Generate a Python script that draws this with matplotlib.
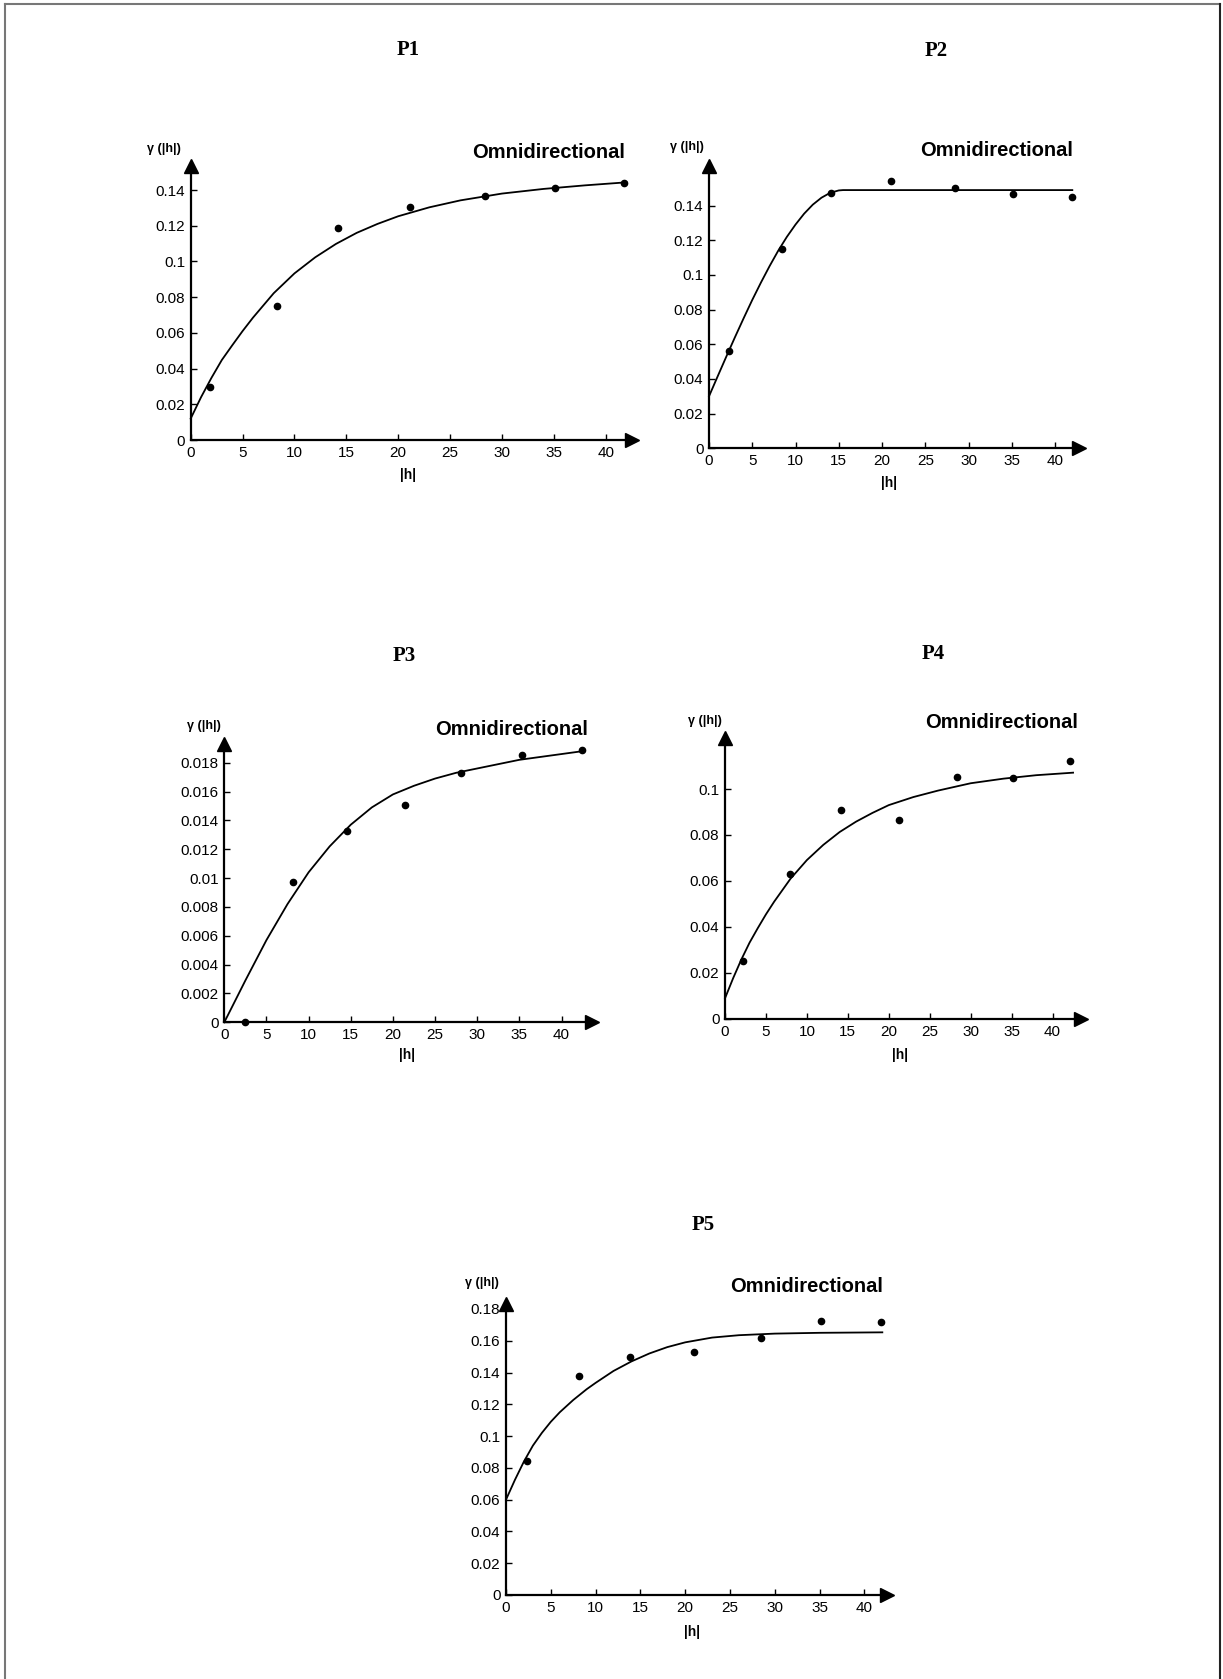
import matplotlib
matplotlib.use("Agg")
import matplotlib.pyplot as plt
from matplotlib.lines import Line2D

# -------------------------
# Data
# -------------------------
titles = ["P1", "P2", "P3", "P4", "P5"]

# experimental points: lag |h| and gamma
p1_lag = [1.9, 8.3, 14.2, 21.1, 28.4, 35.1, 41.8]
p1_gamma = [0.0295, 0.0750, 0.1190, 0.1307, 0.1368, 0.1411, 0.1441]
p2_lag = [2.3, 8.4, 14.1, 21.0, 28.4, 35.1, 42.0]
p2_gamma = [0.0562, 0.1148, 0.1473, 0.1542, 0.1500, 0.1467, 0.1452]
p3_lag = [2.4, 8.2, 14.6, 21.4, 28.1, 35.3, 42.4]
p3_gamma = [0.0000, 0.0097, 0.01326, 0.0151, 0.01726, 0.01851, 0.0189]
p4_lag = [2.2, 7.9, 14.2, 21.3, 28.3, 35.2, 42.1]
p4_gamma = [0.0252, 0.0629, 0.0909, 0.0867, 0.1054, 0.1049, 0.1122]
p5_lag = [2.3, 8.2, 13.8, 21.0, 28.5, 35.2, 41.8]
p5_gamma = [0.0845, 0.1380, 0.1498, 0.1529, 0.1615, 0.1724, 0.1716]

# fitted model curves
p1_model_h = [0, 1, 2, 3, 4, 5, 6, 8, 10, 12, 14, 16, 18, 20, 23, 26, 30, 34, 38, 42]
p1_model_g = [0.012, 0.024, 0.0348, 0.0448, 0.0530, 0.0610, 0.0685, 0.0822, 0.0933,
              0.1023, 0.1098, 0.1160, 0.1210, 0.1253, 0.1303, 0.1342, 0.1380,
              0.1406, 0.1426, 0.1443]
p2_model_h = [0, 1, 2, 3, 4, 5, 6, 7, 8, 9, 10, 11, 12, 13, 14, 15, 15.5,
              20, 25, 30, 35, 42]
p2_model_g = [0.030, 0.0415, 0.0529, 0.0641, 0.0750, 0.0856, 0.0956, 0.1051,
              0.1140, 0.1220, 0.1291, 0.1354, 0.1406, 0.1446, 0.1474, 0.1488,
              0.1490, 0.1490, 0.1490, 0.1490, 0.1490, 0.1490]
p3_model_h = [0, 2.5, 5, 7.5, 10, 12.5, 15, 17.5, 20, 22.5, 25, 27.5, 30,
              32.5, 35, 37.5, 40, 42.5]
p3_model_g = [0.0, 0.0029, 0.0057, 0.0082, 0.0104, 0.0122, 0.0137, 0.0149,
              0.0158, 0.0164, 0.0169, 0.0173, 0.0176, 0.0179, 0.0182, 0.0184,
              0.0186, 0.0188]
p4_model_h = [0, 1, 2, 3, 4, 5, 6, 8, 10, 12, 14, 16, 18, 20, 23, 26, 30, 34, 38, 42.5]
p4_model_g = [0.009, 0.0178, 0.0259, 0.0332, 0.0395, 0.0455, 0.0510, 0.0610,
              0.0691, 0.0757, 0.0813, 0.0858, 0.0896, 0.0930, 0.0965, 0.0993,
              0.1025, 0.1045, 0.1060, 0.1071]
p5_model_h = [0, 1, 2, 3, 4, 5, 6, 7.5, 9, 10, 12, 14, 16, 18, 20, 23, 26, 30, 35, 42]
p5_model_g = [0.060, 0.0725, 0.0840, 0.0940, 0.1020, 0.1090, 0.1150, 0.1227,
              0.1295, 0.1335, 0.1410, 0.1470, 0.1520, 0.1560, 0.1590, 0.1620,
              0.1635, 0.1645, 0.1650, 0.1653]

x_ticks = [0, 5, 10, 15, 20, 25, 30, 35, 40]
y_ticks_p1 = [0, 0.02, 0.04, 0.06, 0.08, 0.1, 0.12, 0.14]
y_ticks_p3 = [0, 0.002, 0.004, 0.006, 0.008, 0.01, 0.012, 0.014, 0.016, 0.018]
y_ticks_p4 = [0, 0.02, 0.04, 0.06, 0.08, 0.1]
y_ticks_p5 = [0, 0.02, 0.04, 0.06, 0.08, 0.1, 0.12, 0.14, 0.16, 0.18]

series = [
    (p1_lag, p1_gamma, p1_model_h, p1_model_g, y_ticks_p1),
    (p2_lag, p2_gamma, p2_model_h, p2_model_g, y_ticks_p1),
    (p3_lag, p3_gamma, p3_model_h, p3_model_g, y_ticks_p3),
    (p4_lag, p4_gamma, p4_model_h, p4_model_g, y_ticks_p4),
    (p5_lag, p5_gamma, p5_model_h, p5_model_g, y_ticks_p5),
]

# -------------------------
# Layout in pixels (origin x, px per unit, arrow tip x, origin y, px per unit, arrow tip y)
# -------------------------
W, H = 1223, 1679
layout = [
    dict(x0=190.7, pxu=10.375, xtip=638, y0=440, pyu=1785.7, ytip=160,
         title=(408, 50), omni=(625, 152), gam=(147, 149), hlab=(408, 475)),
    dict(x0=709, pxu=8.65, xtip=1085, y0=448.3, pyu=1733, ytip=160,
         title=(936, 51), omni=(1073, 150), gam=(670, 147), hlab=(889, 483)),
    dict(x0=224.3, pxu=8.43, xtip=598, y0=1022.3, pyu=14422, ytip=738,
         title=(404, 656), omni=(588, 730), gam=(187, 726), hlab=(407, 1055)),
    dict(x0=725, pxu=8.19, xtip=1086.7, y0=1019, pyu=2300, ytip=731.7,
         title=(933, 654), omni=(1078, 723), gam=(688, 721), hlab=(900, 1055)),
    dict(x0=506, pxu=8.96, xtip=893, y0=1595, pyu=1589, ytip=1298,
         title=(703, 1225), omni=(883, 1287), gam=(465, 1283), hlab=(692, 1632)),
]

fig = plt.figure(figsize=(W / 100, H / 100), dpi=100)

# page frame
fig.add_artist(Line2D([5 / W, 5 / W], [0, 1 - 4 / H], color="#777777", lw=1.5))
fig.add_artist(Line2D([5 / W, 1220 / W], [1 - 4 / H, 1 - 4 / H], color="#777777", lw=1.5))
fig.add_artist(Line2D([1220 / W, 1220 / W], [0, 1 - 4 / H], color="#222222", lw=1.5))

for title, (lag, gam, mh, mg, yt), L in zip(titles, series, layout):
    right = L["xtip"] - 6
    top = L["ytip"] + 6
    ax = fig.add_axes([L["x0"] / W, 1 - L["y0"] / H,
                       (right - L["x0"]) / W, (L["y0"] - top) / H])
    ax.set_xlim(0, (right - L["x0"]) / L["pxu"])
    ax.set_ylim(0, (L["y0"] - top) / L["pyu"])

    ax.plot(mh, mg, color="black", lw=1.3, clip_on=False)
    ax.plot(lag, gam, "o", color="black", markersize=4.5, clip_on=False)

    for s in ["top", "right"]:
        ax.spines[s].set_visible(False)
    for s in ["left", "bottom"]:
        ax.spines[s].set_linewidth(1.6)
    ax.plot(1, 0, ">k", markersize=10, transform=ax.get_yaxis_transform(), clip_on=False)
    ax.plot(0, 1, "^k", markersize=10, transform=ax.get_xaxis_transform(), clip_on=False)

    ax.set_xticks(x_ticks)
    ax.set_xticklabels([f"{v:g}" for v in x_ticks])
    ax.set_yticks(yt)
    ax.set_yticklabels([f"{v:g}" for v in yt])
    ax.tick_params(direction="in", length=4, width=1, pad=4, labelsize=11)
    for lab in ax.get_xticklabels() + ax.get_yticklabels():
        lab.set_family("Liberation Sans")

    fig.text(L["title"][0] / W, 1 - L["title"][1] / H, title,
             family="Liberation Serif", weight="bold", fontsize=15,
             ha="center", va="center")
    fig.text(L["omni"][0] / W, 1 - L["omni"][1] / H, "Omnidirectional",
             family="Liberation Sans", weight="bold", fontsize=14.5,
             ha="right", va="center")
    fig.text(L["gam"][0] / W, 1 - L["gam"][1] / H, "γ (|h|)",
             family="Liberation Sans", weight="bold", fontsize=9,
             ha="left", va="center")
    fig.text(L["hlab"][0] / W, 1 - L["hlab"][1] / H, "|h|",
             family="Liberation Sans", weight="bold", fontsize=10,
             ha="center", va="center")

fig.savefig("out.png", dpi=100)
plt.close(fig)
